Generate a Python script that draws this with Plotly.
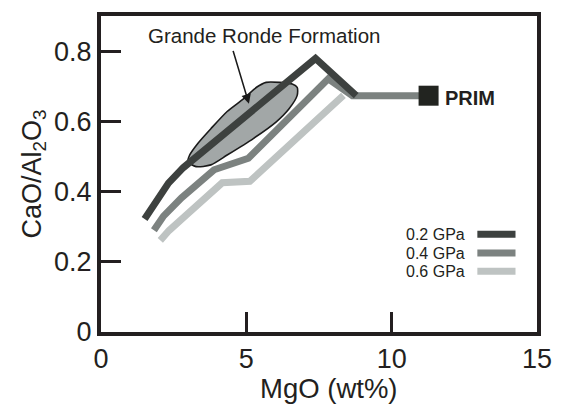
import plotly.graph_objects as go

# ---- data ----
p02_x = [1.50, 1.87, 2.32, 2.83, 7.38, 8.78]
p02_y = [0.322, 0.372, 0.424, 0.468, 0.779, 0.673]

p04_x = [1.82, 2.15, 2.77, 3.56, 3.89, 5.07, 7.82, 8.65, 11.27]
p04_y = [0.290, 0.330, 0.382, 0.438, 0.462, 0.495, 0.721, 0.673, 0.673]

p06_x = [2.04, 2.34, 2.93, 4.17, 5.12, 8.34]
p06_y = [0.261, 0.289, 0.333, 0.425, 0.429, 0.674]

grf_x = [2.99, 3.27, 3.78, 4.34, 5.24, 6.02, 6.47, 6.75, 6.75, 6.58, 6.13, 5.68,
         5.35, 4.90, 4.34, 3.78, 3.33, 3.05, 2.99]
grf_y = [0.485, 0.471, 0.476, 0.504, 0.551, 0.598, 0.636, 0.674, 0.697, 0.706, 0.711, 0.711,
         0.697, 0.664, 0.628, 0.579, 0.537, 0.504, 0.485]

prim_x = [11.27]
prim_y = [0.673]

series_names = ["0.2 GPa", "0.4 GPa", "0.6 GPa"]
series_colors = ["#3d413f", "#7c8280", "#bec3c2"]

x_ticks = [0, 5, 10, 15]
y_ticks = [0, 0.2, 0.4, 0.6, 0.8]
y_tick_text = ["0", "0.2", "0.4", "0.6", "0.8"]

FONT = "Liberation Sans, Arial, Helvetica, sans-serif"
INK = "#231f20"

fig = go.Figure()

# Grande Ronde field
fig.add_trace(go.Scatter(x=grf_x, y=grf_y, mode="lines", fill="toself",
                         fillcolor="#a2a7a7",
                         line=dict(color="#1a1a1a", width=1.6, shape="spline", smoothing=0.7),
                         showlegend=False, hoverinfo="skip"))

# melting paths
fig.add_trace(go.Scatter(x=p06_x, y=p06_y, mode="lines", name=series_names[2],
                         line=dict(color=series_colors[2], width=7), showlegend=False))
fig.add_trace(go.Scatter(x=p04_x, y=p04_y, mode="lines", name=series_names[1],
                         line=dict(color=series_colors[1], width=7), showlegend=False))
fig.add_trace(go.Scatter(x=p02_x, y=p02_y, mode="lines", name=series_names[0],
                         line=dict(color=series_colors[0], width=7), showlegend=False))

# PRIM
fig.add_trace(go.Scatter(x=prim_x, y=prim_y, mode="markers",
                         marker=dict(symbol="square", size=20, color="#222420"),
                         showlegend=False))

fig.add_annotation(x=prim_x[0], y=prim_y[0] - 0.006, xref="x", yref="y", text="<b>PRIM</b>",
                   showarrow=False, xanchor="left", xshift=14,
                   font=dict(family=FONT, size=20, color=INK))

# Grande Ronde label + arrow
fig.add_annotation(x=5.62, y=0.844, xref="x", yref="y", text="Grande Ronde Formation",
                   showarrow=False, font=dict(family=FONT, size=20.5, color=INK))
fig.add_annotation(x=5.09, y=0.650, ax=4.53, ay=0.805, xref="x", yref="y", axref="x", ayref="y",
                   text="", showarrow=True, arrowhead=2, arrowsize=1.2, arrowwidth=1.6,
                   arrowcolor="#1a1a1a")

# custom legend (text left, line key right)
leg_y = [0.3094, 0.2498, 0.1922]
for name, col, ly in zip(series_names, series_colors, leg_y):
    fig.add_annotation(x=0.8386, y=ly, xref="paper", yref="paper", text=name, showarrow=False,
                       xanchor="right", yanchor="middle", font=dict(family=FONT, size=16, color=INK))
    fig.add_shape(type="line", xref="paper", yref="paper", x0=0.8632, x1=0.9507, y0=ly, y1=ly,
                  line=dict(color=col, width=7))

# x-axis title placed as in the reference (slightly right of centre)
fig.add_annotation(x=0.522, y=-0.178, xref="paper", yref="paper", text="MgO (wt%)",
                   showarrow=False, xanchor="center", yanchor="middle",
                   font=dict(family=FONT, size=27.5, color=INK))

fig.update_layout(
    width=564, height=404,
    margin=dict(l=101, r=17, t=13, b=72),
    paper_bgcolor="white", plot_bgcolor="white",
    font=dict(family=FONT, color=INK),
    showlegend=False,
)
fig.update_xaxes(range=[0, 15], tickvals=x_ticks, ticks="inside", ticklen=20, tickwidth=3,
                 tickcolor=INK, showline=True, mirror=True, linewidth=4, linecolor=INK,
                 showgrid=False, zeroline=False, tickfont=dict(size=27, family=FONT, color=INK))
fig.update_yaxes(range=[0, 0.9], tickvals=y_ticks, ticktext=y_tick_text, ticks="inside", ticklen=20,
                 tickwidth=3, tickcolor=INK, showline=True, mirror=True, linewidth=4, linecolor=INK,
                 showgrid=False, zeroline=False, tickfont=dict(size=27, family=FONT, color=INK),
                 title=dict(text="CaO/Al<sub>2</sub>O<sub>3</sub>", font=dict(size=27, family=FONT, color=INK),
                            standoff=6))

fig.write_html("out.html")
